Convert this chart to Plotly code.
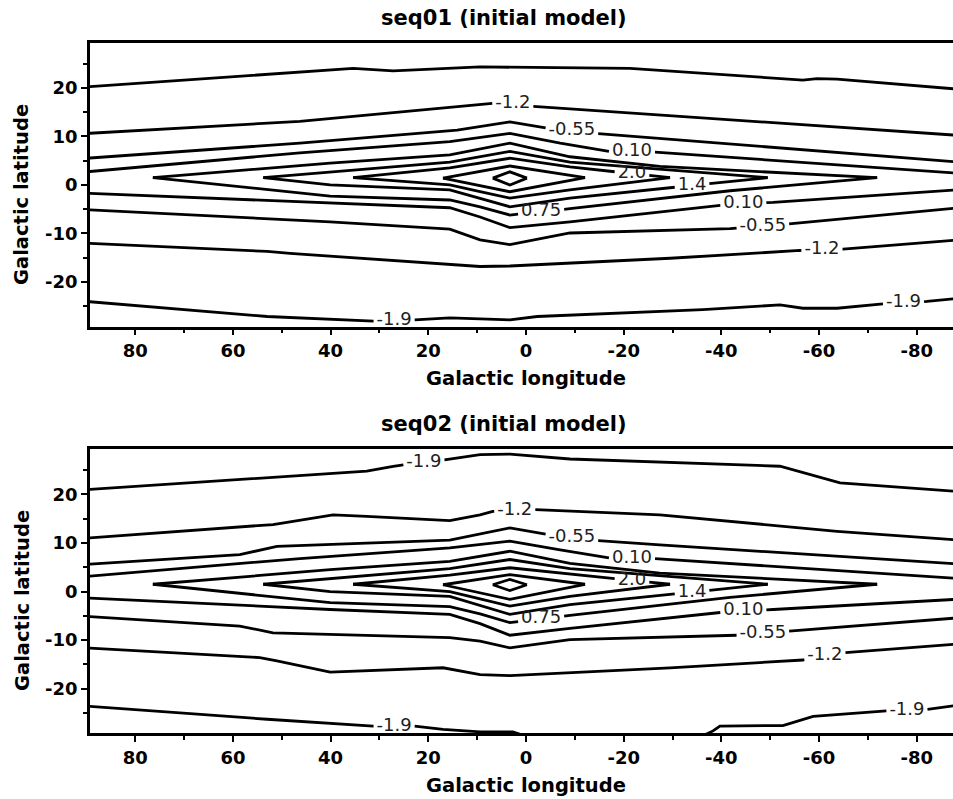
import numpy as np
import plotly.graph_objects as go

# Contour levels of the model field (log scale)
LEVELS = [-1.85, -1.20, -0.55, 0.10, 0.75, 1.40, 2.05, 2.70, 3.35]

X_TICKS = [80, 60, 40, 20, 0, -20, -40, -60, -80]
X_TICK_TEXT = ["80", "60", "40", "20", "0", "-20", "-40", "-60", "-80"]
X_MINOR = [90, 70, 50, 30, 10, -10, -30, -50, -70, -90]
Y_TICKS = [20, 10, 0, -10, -20]
Y_TICK_TEXT = ["20", "10", "0", "-10", "-20"]
Y_MINOR = [25, 15, 5, -5, -15, -25]

X_RANGE = [89.27, -87.43]
Y_RANGE = [-29.2, 29.3]

# Contour edges: (level, side, galactic longitude, galactic latitude)
SEQ01_EDGES = [
    (-1.85, "N", [90, 35.4, 27.2, 9.4, -21.3, -56.7, -59.6, -63.7, -90],
                 [20.2, 24.0, 23.5, 24.3, 24.0, 21.6, 21.9, 21.8, 19.6]),
    (-1.85, "S", [90, 53.0, 30.5, 23.1, 15.6, 9.4, 3.3, -2.3, -36.2, -52.0, -56.7, -63.7, -73.1, -82.1, -90],
                 [-24.0, -27.1, -28.1, -27.8, -27.4, -27.6, -27.8, -27.1, -25.7, -24.7, -25.4, -25.4, -24.5, -24.0, -23.2]),
    (-1.20, "N", [90, 46.3, 6.8, 3.3, -1.4, -27.4, -90],
                 [10.6, 13.1, 16.8, 16.9, 16.2, 14.4, 10.1]),
    (-1.20, "S", [90, 53.0, 48.3, 9.4, 3.3, -29.5, -56.1, -64.9, -90],
                 [-12.0, -13.7, -14.1, -16.8, -16.7, -15.1, -13.5, -13.2, -11.2]),
    (-0.55, "N", [90, 46.3, 14.1, 3.3, -4.3, -14.5, -27.4, -90],
                 [5.5, 8.6, 11.3, 13.0, 11.7, 10.6, 9.6, 4.6]),
    (-0.55, "S", [90, 40.1, 15.6, 9.4, 3.3, -9.0, -41.8, -52.0, -90],
                 [-5.1, -7.6, -9.1, -11.3, -12.3, -9.9, -9.0, -8.2, -4.6]),
    (0.10, "N", [90, 46.3, 15.6, 3.3, -7.0, -17.2, -26.0, -90],
                [2.7, 6.6, 8.9, 10.6, 8.6, 6.9, 6.8, 2.3]),
    (0.10, "S", [90, 40.1, 15.6, 9.4, 3.3, -9.0, -41.8, -50.6, -90],
                [-1.7, -3.7, -4.7, -6.6, -8.8, -7.6, -4.0, -3.6, -0.9]),
    (0.75, "N", [76.4, 40.1, 15.6, 3.3, -9.0, -27.4, -71.9],
                [1.5, 4.5, 6.2, 8.6, 5.8, 3.8, 1.5]),
    (0.75, "S", [76.4, 40.1, 15.6, 9.4, 3.3, -9.0, -41.8, -71.9],
                [1.5, -2.3, -3.1, -4.5, -6.2, -4.9, -1.2, 1.5]),
    (1.40, "N", [53.8, 40.1, 15.6, 3.3, -9.0, -49.5],
                [1.5, 2.7, 4.7, 6.9, 4.7, 1.5]),
    (1.40, "S", [53.8, 40.1, 15.6, 9.4, 3.3, -9.0, -49.5],
                [1.5, 0.0, -1.0, -2.7, -4.5, -2.7, 1.5]),
    (2.05, "N", [35.4, 15.6, 3.3, -9.0, -29.5],
                [1.5, 3.5, 5.5, 3.7, 1.5]),
    (2.05, "S", [35.4, 15.6, 9.4, 3.3, -9.0, -29.5],
                [1.5, 0.0, -1.4, -2.7, -1.0, 1.5]),
    (2.70, "N", [17.0, 3.3, -12.1], [1.4, 3.9, 1.5]),
    (2.70, "S", [17.0, 3.3, -12.1], [1.4, -1.4, 1.5]),
    (3.35, "N", [6.8, 3.3, -0.2], [1.4, 2.7, 1.4]),
    (3.35, "S", [6.8, 3.3, -0.2], [1.4, 0.0, 1.4]),
]

SEQ02_EDGES = [
    (-1.85, "N", [90, 32.6, 27.2, 16.2, 9.4, 3.3, -9.0, -52.0, -64.3, -90],
                 [21.0, 24.8, 25.8, 27.2, 28.2, 28.3, 27.3, 25.8, 22.4, 20.5]),
    (-1.85, "S", [90, 53.0, 31.3, 23.1, 17.0, 9.4, 2.7, 0.0, -20.0, -36.0, -38.3, -39.7, -52.6, -58.8, -73.1, -82.1, -90],
                 [-23.6, -26.3, -27.7, -27.7, -28.4, -28.9, -28.9, -29.8, -31.0, -29.8, -28.7, -27.7, -27.6, -25.7, -24.6, -24.3, -23.2]),
    (-1.20, "N", [90, 51.8, 39.5, 32.6, 15.6, 9.4, 6.8, 3.3, -1.4, -27.4, -63.7, -90],
                 [11.0, 13.8, 15.8, 15.5, 14.6, 15.8, 16.5, 16.7, 16.9, 15.8, 12.4, 10.5]),
    (-1.20, "S", [90, 54.5, 51.0, 40.1, 17.0, 9.4, 3.3, -29.5, -56.7, -64.9, -90],
                 [-11.6, -13.6, -14.3, -16.6, -15.7, -17.1, -17.3, -15.7, -14.1, -12.6, -10.7]),
    (-0.55, "N", [90, 58.6, 51.0, 15.6, 3.3, -4.3, -14.5, -27.4, -90],
                 [5.6, 7.6, 9.3, 10.6, 13.1, 11.8, 10.5, 9.6, 5.6]),
    (-0.55, "S", [90, 58.6, 51.8, 15.6, 9.4, 3.3, -9.0, -41.8, -52.0, -90],
                 [-5.1, -7.1, -8.5, -9.5, -10.2, -11.6, -9.9, -9.1, -8.3, -5.3]),
    (0.10, "N", [90, 46.3, 15.6, 3.3, -7.0, -17.2, -26.0, -90],
                [3.1, 6.8, 9.0, 10.4, 8.6, 6.9, 6.8, 2.6]),
    (0.10, "S", [90, 40.1, 15.6, 9.4, 3.3, -9.0, -41.8, -50.6, -90],
                [-1.3, -3.7, -4.7, -6.6, -9.0, -7.6, -4.1, -3.7, -1.5]),
    (0.75, "N", [76.4, 40.1, 15.6, 3.3, -9.0, -27.4, -71.9],
                [1.5, 4.5, 6.2, 8.3, 5.8, 3.8, 1.5]),
    (0.75, "S", [76.4, 40.1, 15.6, 9.4, 3.3, -9.0, -41.8, -71.9],
                [1.5, -2.3, -3.1, -4.6, -6.4, -4.9, -1.2, 1.5]),
    (1.40, "N", [53.8, 40.1, 15.6, 3.3, -9.0, -49.5],
                [1.5, 2.7, 4.7, 6.6, 4.7, 1.5]),
    (1.40, "S", [53.8, 40.1, 15.6, 9.4, 3.3, -9.0, -49.5],
                [1.5, 0.0, -1.0, -2.8, -4.7, -2.7, 1.5]),
    (2.05, "N", [35.4, 15.6, 3.3, -9.0, -29.5],
                [1.5, 3.4, 4.9, 3.6, 1.5]),
    (2.05, "S", [35.4, 15.6, 9.4, 3.3, -9.0, -29.5],
                [1.5, 0.0, -1.5, -3.0, -1.0, 1.5]),
    (2.70, "N", [17.0, 3.3, -12.1], [1.4, 3.5, 1.5]),
    (2.70, "S", [17.0, 3.3, -12.1], [1.4, -1.6, 1.5]),
    (3.35, "N", [6.8, 3.3, -0.2], [1.4, 2.5, 1.4]),
    (3.35, "S", [6.8, 3.3, -0.2], [1.4, 0.2, 1.4]),
]

# Inline labels: (level, side, longitude of label centre)
SEQ01_LABELS = [
    (-1.20, "N", 2.7), (-0.55, "N", -9.4), (0.10, "N", -21.7), (2.05, "N", -21.7),
    (1.40, "S", -34.0), (0.75, "S", -3.1), (0.10, "S", -44.5), (-0.55, "S", -48.5),
    (-1.20, "S", -60.6), (-1.85, "S", 27.0), (-1.85, "S", -77.3),
]
SEQ02_LABELS = [
    (-1.85, "N", 20.9), (-1.20, "N", 2.3), (-0.55, "N", -9.4), (0.10, "N", -21.7),
    (2.05, "N", -21.7), (1.40, "S", -34.0), (0.75, "S", -3.1), (0.10, "S", -44.5),
    (-0.55, "S", -48.5), (-1.20, "S", -61.2), (-1.85, "S", 27.0), (-1.85, "S", -78.0),
]

FONT = "DejaVu Sans"
LABEL_SIZE = 18
LINE_W = 2.8
FIG_W, FIG_H = 953, 799
MARGIN_L = 90
PX_PER_DEG = (FIG_W - MARGIN_L) / (X_RANGE[0] - X_RANGE[1])


def fmt(level):
    return "%#.2g" % level


def text_width_px(s, size):
    widths = {"-": 0.361, ".": 0.318}
    return sum(widths.get(c, 0.636) for c in s) * size


def lat_at(lons, lats, lon):
    return float(np.interp(lon, lons[::-1], lats[::-1]))


def broken_line(lons, lats, gaps):
    """Return the edge with breaks where inline labels sit."""
    pts = [(l, b, False) for l, b in zip(lons, lats)]
    for lo, hi in gaps:
        pts += [(hi, lat_at(lons, lats, hi), False),
                (lo, lat_at(lons, lats, lo), False),
                ((lo + hi) / 2.0, None, True)]
    pts.sort(key=lambda p: -p[0])
    xs, ys = [], []
    for l, b, brk in pts:
        if brk:
            xs.append(None)
            ys.append(None)
        elif any(lo < l < hi for lo, hi in gaps):
            continue
        else:
            xs.append(l)
            ys.append(b)
    return xs, ys


def add_panel(fig, edges, labels, xref, yref):
    for level, side, lons, lats in edges:
        gaps = []
        for lv, sd, lon in labels:
            if lv == level and sd == side:
                half = (text_width_px(fmt(lv), LABEL_SIZE) / 2 + 3) / PX_PER_DEG
                gaps.append((lon - half, lon + half))
        xs, ys = broken_line(lons, lats, gaps)
        fig.add_trace(go.Scatter(x=xs, y=ys, mode="lines", xaxis=xref, yaxis=yref,
                                 line=dict(color="black", width=LINE_W),
                                 connectgaps=False, hoverinfo="skip"))
    tx, ty, tt = [], [], []
    for lv, sd, lon in labels:
        for level, side, lons, lats in edges:
            if level == lv and side == sd:
                tx.append(lon)
                ty.append(lat_at(lons, lats, lon))
                tt.append(fmt(lv))
                break
    fig.add_trace(go.Scatter(x=tx, y=ty, text=tt, mode="text", xaxis=xref, yaxis=yref,
                             textposition="middle center", cliponaxis=False,
                             textfont=dict(family=FONT, size=LABEL_SIZE, color="#1e1e1e"),
                             hoverinfo="skip"))


fig = go.Figure()
add_panel(fig, SEQ01_EDGES, SEQ01_LABELS, "x", "y")
add_panel(fig, SEQ02_EDGES, SEQ02_LABELS, "x2", "y2")

tick_font = dict(family=FONT, size=18, color="black", weight="bold")
xaxis_common = dict(range=X_RANGE, tickvals=X_TICKS, ticktext=X_TICK_TEXT,
                    showline=True, linecolor="black", linewidth=2.5, mirror=True,
                    ticks="outside", ticklen=6, tickwidth=2, tickcolor="black",
                    minor=dict(tickvals=X_MINOR, ticks="outside", ticklen=4, tickwidth=2, tickcolor="black"),
                    showgrid=False, zeroline=False, tickfont=tick_font, domain=[0, 1])
yaxis_common = dict(range=Y_RANGE, tickvals=Y_TICKS, ticktext=Y_TICK_TEXT,
                    showline=True, linecolor="black", linewidth=2.5, mirror=False,
                    ticks="outside", ticklen=6, tickwidth=2, tickcolor="black",
                    minor=dict(tickvals=Y_MINOR, ticks="outside", ticklen=4, tickwidth=2, tickcolor="black"),
                    showgrid=False, zeroline=False, tickfont=tick_font)

fig.update_layout(
    width=FIG_W, height=FIG_H,
    margin=dict(l=MARGIN_L, r=0, t=0, b=0),
    paper_bgcolor="white", plot_bgcolor="white",
    showlegend=False, hovermode=False,
    xaxis=dict(anchor="y", **xaxis_common),
    yaxis=dict(anchor="x", domain=[0.5911, 0.9466], **yaxis_common),
    xaxis2=dict(anchor="y2", **xaxis_common),
    yaxis2=dict(anchor="x2", domain=[0.0822, 0.4377], **yaxis_common),
)


def px_x(px):
    return (px - MARGIN_L) / (FIG_W - MARGIN_L)


def px_y(py):
    return 1 - py / FIG_H


title_font = dict(family=FONT, size=21, color="black")
axis_font = dict(family=FONT, size=19.5, color="black")
annotations = []
for title, ty, xt_y, yt_y in [("seq01 (initial model)", 17.5, 378, 195),
                               ("seq02 (initial model)", 423.5, 785, 601)]:
    annotations.append(dict(text="<b>%s</b>" % title, x=px_x(504), y=px_y(ty),
                            xref="paper", yref="paper", showarrow=False,
                            xanchor="center", yanchor="middle", font=title_font))
    annotations.append(dict(text="<b>Galactic longitude</b>", x=px_x(526), y=px_y(xt_y),
                            xref="paper", yref="paper", showarrow=False,
                            xanchor="center", yanchor="middle", font=axis_font))
    annotations.append(dict(text="<b>Galactic latitude</b>", x=px_x(22), y=px_y(yt_y),
                            xref="paper", yref="paper", showarrow=False, textangle=-90,
                            xanchor="center", yanchor="middle", font=axis_font))
fig.update_layout(annotations=annotations)

fig.write_html("out.html")
